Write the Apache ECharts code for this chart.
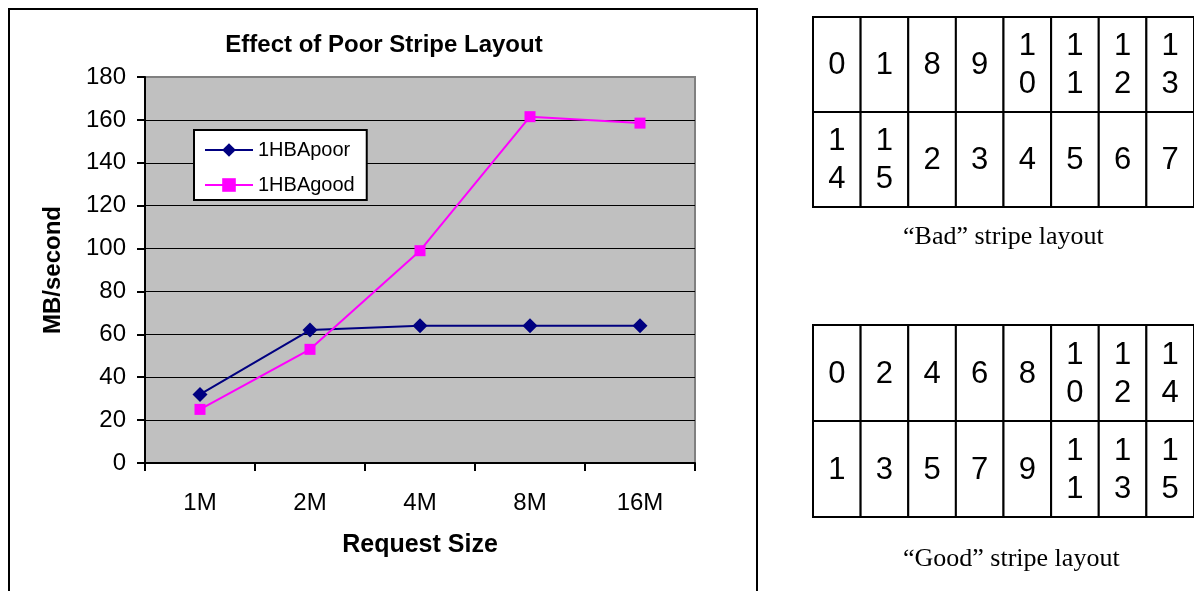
<!DOCTYPE html>
<html>
<head>
<meta charset="utf-8">
<title>Effect of Poor Stripe Layout</title>
<script src="https://cdn.jsdelivr.net/npm/echarts@6/dist/echarts.min.js"></script>
<style>
  html, body { margin: 0; padding: 0; background: #fff; }
  #chart { width: 1194px; height: 591px; }
</style>
</head>
<body>
<div id="chart"></div>
<script>
// Throughput by request size
const requestSizes = ['1M', '2M', '4M', '8M', '16M'];
const poorValues = [32, 62, 64, 64, 64];
const goodValues = [25, 53, 99, 161.5, 158.5];
const yTicks = { min: 0, max: 180, step: 20 };

// Block numbers placed on two rows of eight disks
const diskColumns = ['d0', 'd1', 'd2', 'd3', 'd4', 'd5', 'd6', 'd7'];
const layoutRows = ['top', 'bottom'];
const badTopRow = [0, 1, 8, 9, 10, 11, 12, 13];
const badBottomRow = [14, 15, 2, 3, 4, 5, 6, 7];
const goodTopRow = [0, 2, 4, 6, 8, 10, 12, 14];
const goodBottomRow = [1, 3, 5, 7, 9, 11, 13, 15];

const SANS = '"Liberation Sans", Arial, sans-serif';
const SERIF = '"Liberation Serif", "Times New Roman", serif';

function cellData(topRow, bottomRow) {
  const out = [];
  topRow.forEach((b, i) => out.push([i, 0, b]));
  bottomRow.forEach((b, i) => out.push([i, 1, b]));
  return out;
}

// Each cell: white box with black border, digits stacked one per line
function renderCell(params, api) {
  const c = api.coord([api.value(0), api.value(1)]);
  const s = api.size([1, 1]);
  const text = String(api.value(2)).split('').join('\n');
  return {
    type: 'group',
    children: [
      {
        type: 'rect',
        shape: { x: c[0] - s[0] / 2, y: c[1] - s[1] / 2, width: s[0], height: s[1] },
        style: { fill: '#ffffff', stroke: '#000000', lineWidth: 2 }
      },
      {
        type: 'text',
        style: {
          text: text,
          x: c[0],
          y: c[1] + 1,
          align: 'center',
          verticalAlign: 'middle',
          fill: '#000000',
          fontSize: 31,
          fontFamily: SANS,
          lineHeight: 38
        }
      }
    ]
  };
}

function tableAxes(gridIndex) {
  return {
    x: { type: 'category', gridIndex, data: diskColumns, show: false, boundaryGap: true },
    y: { type: 'category', gridIndex, data: layoutRows, show: false, inverse: true, boundaryGap: true }
  };
}
const badAxes = tableAxes(1);
const goodAxes = tableAxes(2);

const chart = echarts.init(document.getElementById('chart'), null, { renderer: 'canvas' });

chart.setOption({
  backgroundColor: '#ffffff',
  animation: false,
  title: [
    {
      text: 'Effect of Poor Stripe Layout',
      left: 384,
      top: 33,
      padding: 0,
      textAlign: 'center',
      textStyle: { fontFamily: SANS, fontSize: 24, fontWeight: 'bold', color: '#000' }
    },
    {
      text: '\u201CBad\u201D stripe layout',
      left: 903,
      top: 224,
      padding: 0,
      textStyle: { fontFamily: SERIF, fontSize: 26, fontWeight: 'normal', color: '#000' }
    },
    {
      text: '\u201CGood\u201D stripe layout',
      left: 903,
      top: 546,
      padding: 0,
      textStyle: { fontFamily: SERIF, fontSize: 26, fontWeight: 'normal', color: '#000' }
    }
  ],
  graphic: [
    {
      type: 'rect',
      shape: { x: 9, y: 9, width: 748, height: 620 },
      style: { fill: 'none', stroke: '#000', lineWidth: 2 },
      z: -1
    }
  ],
  legend: {
    orient: 'vertical',
    left: 194,
    top: 130,
    padding: [9, 12, 4, 10],
    itemGap: 13,
    itemWidth: 48,
    itemHeight: 17,
    backgroundColor: '#ffffff',
    borderColor: '#000000',
    borderWidth: 2,
    borderRadius: 0,
    textStyle: { fontFamily: SANS, fontSize: 20, color: '#000', lineHeight: 22 },
    data: ['1HBApoor', '1HBAgood']
  },
  grid: [
    {
      left: 145, top: 77, width: 550, height: 386,
      show: true,
      backgroundColor: '#C0C0C0',
      borderColor: '#808080',
      borderWidth: 2
    },
    { left: 813, top: 17, width: 385, height: 190 },
    { left: 813, top: 325, width: 385, height: 192 }
  ],
  xAxis: [
    {
      type: 'category',
      gridIndex: 0,
      data: requestSizes,
      boundaryGap: true,
      name: 'Request Size',
      nameLocation: 'middle',
      nameGap: 70,
      nameTextStyle: { fontFamily: SANS, fontSize: 25, fontWeight: 'bold', color: '#000' },
      axisLine: { show: true, lineStyle: { color: '#000', width: 2 } },
      axisTick: { show: true, length: 8, inside: false, lineStyle: { color: '#000', width: 2 } },
      axisLabel: { fontFamily: SANS, fontSize: 24, color: '#000', margin: 28 },
      splitLine: { show: false }
    },
    badAxes.x,
    goodAxes.x
  ],
  yAxis: [
    {
      type: 'value',
      gridIndex: 0,
      min: yTicks.min,
      max: yTicks.max,
      interval: yTicks.step,
      name: 'MB/second',
      nameLocation: 'middle',
      nameRotate: 90,
      nameGap: 80,
      nameTextStyle: { fontFamily: SANS, fontSize: 24, fontWeight: 'bold', color: '#000' },
      axisLine: { show: true, lineStyle: { color: '#000', width: 2 } },
      axisTick: { show: true, length: 8, inside: false, lineStyle: { color: '#000', width: 2 } },
      axisLabel: { fontFamily: SANS, fontSize: 24, color: '#000', margin: 19 },
      splitLine: {
        show: true,
        showMinLine: false,
        showMaxLine: false,
        lineStyle: { color: '#000', width: 1 }
      }
    },
    badAxes.y,
    goodAxes.y
  ],
  series: [
    {
      name: '1HBApoor',
      type: 'line',
      xAxisIndex: 0,
      yAxisIndex: 0,
      data: poorValues,
      symbol: 'diamond',
      symbolSize: 15,
      showAllSymbol: true,
      color: '#000080',
      lineStyle: { color: '#000080', width: 2 },
      itemStyle: { color: '#000080' },
      z: 3
    },
    {
      name: '1HBAgood',
      type: 'line',
      xAxisIndex: 0,
      yAxisIndex: 0,
      data: goodValues,
      symbol: 'rect',
      symbolSize: 11,
      showAllSymbol: true,
      color: '#FF00FF',
      lineStyle: { color: '#FF00FF', width: 2 },
      itemStyle: { color: '#FF00FF' },
      z: 4
    },
    {
      name: 'badLayout',
      type: 'custom',
      xAxisIndex: 1,
      yAxisIndex: 1,
      data: cellData(badTopRow, badBottomRow),
      renderItem: renderCell,
      silent: true
    },
    {
      name: 'goodLayout',
      type: 'custom',
      xAxisIndex: 2,
      yAxisIndex: 2,
      data: cellData(goodTopRow, goodBottomRow),
      renderItem: renderCell,
      silent: true
    }
  ]
});
</script>
</body>
</html>
